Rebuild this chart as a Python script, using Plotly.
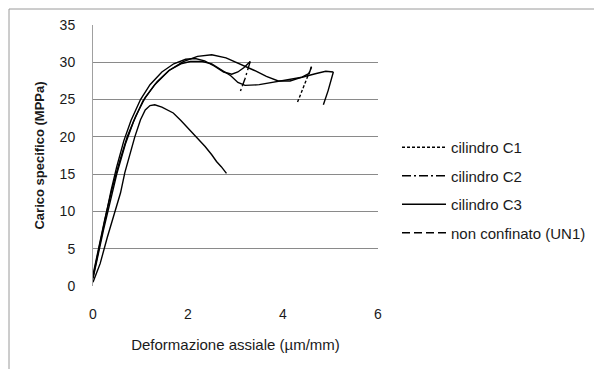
import numpy as np
import plotly.graph_objects as go

# ---- data ----
c1_x = [0, 0.1, 0.22, 0.35, 0.5, 0.68, 0.85, 1.05, 1.3, 1.6, 1.9, 2.2, 2.5, 2.8, 3.1, 3.4, 3.65, 3.9, 4.15, 4.4, 4.55, 4.6, 4.29]
c1_y = [1.0, 4, 7.5, 11, 15, 19, 22, 24.8, 27, 28.9, 30.1, 30.8, 31.0, 30.6, 29.8, 28.9, 28.1, 27.5, 27.5, 28.0, 28.5, 29.4, 24.4]

c2_x = [0, 0.12, 0.25, 0.38, 0.5, 0.65, 0.8, 1.0, 1.2, 1.45, 1.7, 1.95, 2.15, 2.35, 2.55, 2.75, 2.92, 3.05, 3.18, 3.31, 3.2, 3.09]
c2_y = [1.2, 5, 9, 12.8, 16, 19.5, 22.2, 25, 27, 28.7, 29.8, 30.4, 30.5, 30.2, 29.5, 28.7, 28.4, 28.7, 29.3, 30.1, 27.8, 25.9]

c3_x = [0, 0.1, 0.25, 0.4, 0.55, 0.72, 0.9, 1.1, 1.35, 1.6, 1.85, 2.05, 2.3, 2.5, 2.7, 2.9, 3.05, 3.2, 3.5, 3.8, 4.1, 4.4, 4.7, 4.9, 5.06, 4.95, 4.85]
c3_y = [1.5, 4.5, 9, 13, 16.5, 20, 22.8, 25.3, 27.4, 28.9, 29.8, 30.1, 30.1, 29.8, 29.0, 28.2, 27.3, 26.9, 27.0, 27.3, 27.6, 28.0, 28.5, 28.8, 28.7, 26.2, 24.3]

un1_x = [0, 0.08, 0.15, 0.3, 0.46, 0.58, 0.67, 0.78, 0.88, 1.0, 1.1, 1.2, 1.3, 1.45, 1.69, 1.85, 2.04, 2.2, 2.36, 2.5, 2.6, 2.7, 2.81]
un1_y = [0.5, 1.8, 3, 6.5, 9.8, 12.5, 15.2, 17.8, 20, 22.3, 23.6, 24.2, 24.3, 24.0, 23.2, 22.2, 20.9, 19.8, 18.7, 17.6, 16.7, 16.0, 15.1]

names = ["cilindro C1", "cilindro C2", "cilindro C3", "non confinato (UN1)"]
x_ticks = [0, 2, 4, 6]
y_ticks = [0, 5, 10, 15, 20, 25, 30, 35]

series = [(c1_x, c1_y), (c2_x, c2_y), (c3_x, c3_y), (un1_x, un1_y)]
dashes = ["3px,2px", "9px,3px,2px,3px", "solid", "8px,4px"]

FONT = "Liberation Sans"
fig = go.Figure()
for i, ((xs, ys), name, dash) in enumerate(zip(series, names, dashes)):
    k = int(np.argmax(xs))  # loading branch up to the last maximum strain
    g = f"g{i}"
    fig.add_trace(go.Scatter(x=xs[:k + 1], y=ys[:k + 1], mode="lines",
                             line=dict(color="black", width=1.4),
                             legendgroup=g, showlegend=False, hoverinfo="skip"))
    fig.add_trace(go.Scatter(x=xs[k:], y=ys[k:], mode="lines", name=name,
                             line=dict(color="black", width=1.4, dash=dash),
                             legendgroup=g, showlegend=True))

W, H = 594, 369
L, R, T, B = 93, 216, 25, 83
pw = W - L - R
ph = H - T - B

def px2paper_x(p):
    return (p - L) / pw

def px2paper_y(p):
    return (H - B - p) / ph

fig.update_layout(
    width=W, height=H,
    margin=dict(l=L, r=R, t=T, b=B, autoexpand=False),
    paper_bgcolor="white", plot_bgcolor="white",
    font=dict(family=FONT, size=14, color="#1a1a1a"),
    showlegend=True,
    legend=dict(x=px2paper_x(397), y=px2paper_y(131), xanchor="left", yanchor="top",
                traceorder="grouped", tracegroupgap=6, itemwidth=44,
                font=dict(family=FONT, size=15, color="#1a1a1a"),
                bgcolor="rgba(0,0,0,0)"),
    xaxis=dict(range=[0, 6], tickvals=x_ticks, showgrid=False, zeroline=False,
               showline=False, ticks="", ticklabelstandoff=18,
               title=dict(text="Deformazione assiale (µm/mm)", standoff=18,
                          font=dict(family=FONT, size=15))),
    yaxis=dict(range=[0, 35], tickvals=y_ticks, showgrid=True, gridcolor="#8a8a8a",
               gridwidth=1, zeroline=False, showline=True, linecolor="#a0a0a0",
               linewidth=1, ticks="", ticklabelstandoff=14,
               title=dict(text="<b>Carico specifico (MPPa)</b>", standoff=12,
                          font=dict(family=FONT, size=13))),
    shapes=[
        dict(type="line", xref="paper", yref="paper",
             x0=px2paper_x(9), x1=px2paper_x(600), y0=px2paper_y(9), y1=px2paper_y(9),
             line=dict(color="#9a9a9a", width=1)),
        dict(type="line", xref="paper", yref="paper",
             x0=px2paper_x(9), x1=px2paper_x(9), y0=px2paper_y(9), y1=px2paper_y(380),
             line=dict(color="#9a9a9a", width=1)),
    ],
)

fig.write_html("out.html")
